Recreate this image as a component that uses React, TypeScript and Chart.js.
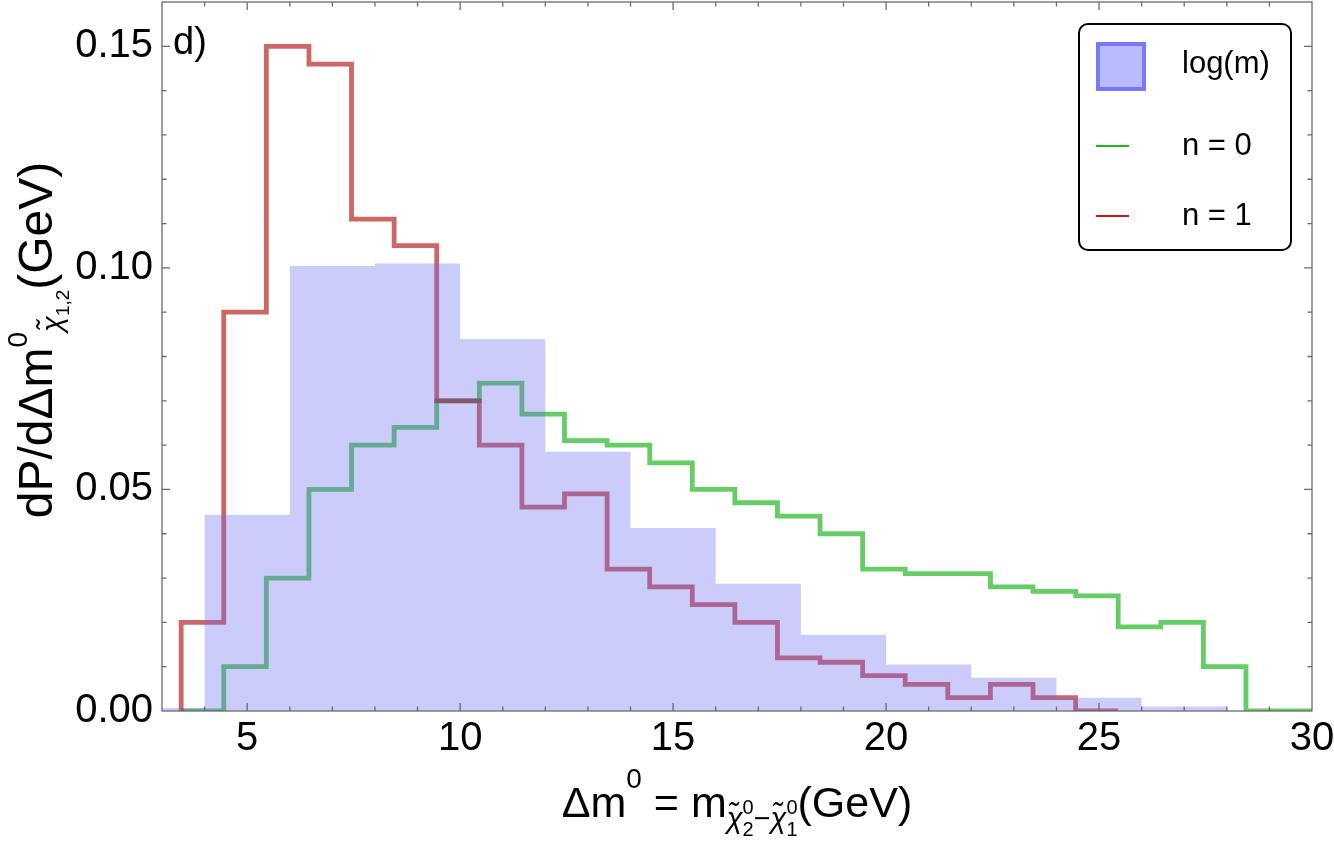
import { useEffect, useRef } from "react";
import { Chart, registerables } from "chart.js";

Chart.register(...registerables);

// log(m): 2 GeV bins starting at 2 GeV
const logMBinStart = 2;
const logMBinWidth = 2;
const logMValues = [
  0.0007, 0.0443, 0.1004, 0.101, 0.0839, 0.0585, 0.0413, 0.0287, 0.0172,
  0.0105, 0.0075, 0.003, 0.001,
];

// n = 0 / n = 1: 1 GeV bins starting at 3.45 GeV
const stepBinStart = 3.45;
const stepBinWidth = 1;
const n0Values = [
  0, 0.01, 0.03, 0.05, 0.06, 0.064, 0.07, 0.074, 0.067, 0.061, 0.06, 0.056,
  0.05, 0.047, 0.044, 0.04, 0.032, 0.031, 0.031, 0.028, 0.027, 0.026, 0.019,
  0.02, 0.01, 0, 0,
];
const n1Values = [
  0.02, 0.09, 0.15, 0.146, 0.111, 0.105, 0.07, 0.06, 0.046, 0.049, 0.032,
  0.028, 0.024, 0.02, 0.012, 0.011, 0.008, 0.006, 0.003, 0.006, 0.003, 0,
];

const seriesLabels = ["log(m)", "n = 0", "n = 1"];
const xTickLabels = [5, 10, 15, 20, 25, 30];
const yTickLabels = [0, 0.05, 0.1, 0.15];

const FONT = "'Liberation Sans', Arial, sans-serif";

type Run = { t: string; s: number; dy?: number; it?: boolean; stay?: boolean };

const xTitle: Run[] = [
  { t: "Δm", s: 43 },
  { t: "0", s: 28, dy: -29 },
  { t: " = m", s: 43 },
  { t: "χ̃", s: 29, dy: 11, it: true },
  { t: "2", s: 20, dy: 19, stay: true },
  { t: "0", s: 20, dy: -3 },
  { t: "−", s: 29, dy: 11 },
  { t: "χ̃", s: 29, dy: 11, it: true },
  { t: "1", s: 20, dy: 19, stay: true },
  { t: "0", s: 20, dy: -3 },
  { t: "(GeV)", s: 43 },
];

const yTitle: Run[] = [
  { t: "dP/dΔm", s: 48 },
  { t: "0", s: 28, dy: -25 },
  { t: "χ̃", s: 29, dy: 10, it: true },
  { t: "1,2", s: 19, dy: 17 },
  { t: "(GeV)", s: 48 },
];

function fontOf(r: Run) {
  return `${r.it ? "italic " : ""}${r.s}px ${FONT}`;
}

function runsWidth(ctx: CanvasRenderingContext2D, runs: Run[]) {
  let w = 0;
  for (const r of runs) {
    ctx.font = fontOf(r);
    if (!r.stay) w += ctx.measureText(r.t).width;
  }
  return w;
}

function drawRuns(ctx: CanvasRenderingContext2D, runs: Run[], x: number, y: number) {
  let cx = x;
  for (const r of runs) {
    ctx.font = fontOf(r);
    ctx.fillText(r.t, cx, y + (r.dy || 0));
    if (!r.stay) cx += ctx.measureText(r.t).width;
  }
}

// outline of a histogram: left-edge start at zero, then flat top per bin
function stepPoints(values: number[], start: number, width: number) {
  const pts = [{ x: start, y: 0 }];
  values.forEach((v, i) => {
    pts.push({ x: start + i * width, y: v });
    pts.push({ x: start + (i + 1) * width, y: v });
  });
  return pts;
}

const decorPlugin = {
  id: "decor",
  afterDatasetsDraw(chart: any) {
    const ctx: CanvasRenderingContext2D = chart.ctx;
    const a = chart.chartArea;
    const xs = chart.scales.x;
    const ys = chart.scales.y;
    ctx.save();

    // frame
    ctx.strokeStyle = "#6a6a6a";
    ctx.lineWidth = 1.3;
    ctx.strokeRect(a.left, a.top, a.right - a.left, a.bottom - a.top);

    // inward ticks on all four sides
    ctx.beginPath();
    for (let v = 4; v <= 29; v++) {
      const px = xs.getPixelForValue(v);
      const len = v % 5 === 0 ? 8 : 4.5;
      ctx.moveTo(px, a.bottom);
      ctx.lineTo(px, a.bottom - len);
      ctx.moveTo(px, a.top);
      ctx.lineTo(px, a.top + len);
    }
    for (let k = 1; k <= 15; k++) {
      const py = ys.getPixelForValue(k / 100);
      const len = k % 5 === 0 ? 8 : 4.5;
      ctx.moveTo(a.left, py);
      ctx.lineTo(a.left + len, py);
      ctx.moveTo(a.right, py);
      ctx.lineTo(a.right - len, py);
    }
    ctx.stroke();

    ctx.fillStyle = "#000";
    ctx.textBaseline = "alphabetic";
    ctx.textAlign = "left";

    // panel tag
    ctx.font = `38px ${FONT}`;
    ctx.fillText("d)", a.left + 11, 54);

    // axis titles
    const xw = runsWidth(ctx, xTitle);
    drawRuns(ctx, xTitle, (a.left + a.right) / 2 - xw / 2, 817);

    const yw = runsWidth(ctx, yTitle);
    ctx.save();
    ctx.translate(52, 340);
    ctx.rotate(-Math.PI / 2);
    drawRuns(ctx, yTitle, -yw / 2, 0);
    ctx.restore();

    // legend
    const bx = 1079, by = 24, bw = 212, bh = 226;
    ctx.beginPath();
    ctx.roundRect(bx, by, bw, bh, 9);
    ctx.fillStyle = "#fff";
    ctx.fill();
    ctx.strokeStyle = "#000";
    ctx.lineWidth = 2;
    ctx.stroke();

    ctx.fillStyle = "rgb(186,186,255)";
    ctx.fillRect(1098, 44, 46, 45);
    ctx.strokeStyle = "rgb(120,120,255)";
    ctx.lineWidth = 4;
    ctx.strokeRect(1098, 44, 46, 45);

    ctx.lineWidth = 2;
    ctx.strokeStyle = "rgb(30,180,30)";
    ctx.beginPath();
    ctx.moveTo(1096, 146);
    ctx.lineTo(1129, 146);
    ctx.stroke();
    ctx.strokeStyle = "rgb(200,25,25)";
    ctx.beginPath();
    ctx.moveTo(1096, 216);
    ctx.lineTo(1129, 216);
    ctx.stroke();

    ctx.fillStyle = "#000";
    ctx.font = `31px ${FONT}`;
    ctx.textBaseline = "middle";
    ctx.fillText(seriesLabels[0], 1182, 64);
    ctx.fillText(seriesLabels[1], 1182, 146);
    ctx.fillText(seriesLabels[2], 1182, 216);

    ctx.restore();
  },
};

export default function App() {
  const canvasRef = useRef<HTMLCanvasElement>(null);

  useEffect(() => {
    const canvas = canvasRef.current;
    if (!canvas) return;

    const tickFont = { family: FONT, size: 40 };

    const chart = new Chart(canvas, {
      type: "line",
      data: {
        datasets: [
          {
            label: seriesLabels[0],
            data: [
              ...stepPoints(logMValues, logMBinStart, logMBinWidth),
              { x: logMBinStart + logMValues.length * logMBinWidth, y: 0 },
            ],
            backgroundColor: "rgba(100,100,240,0.33)",
            borderWidth: 0,
            pointRadius: 0,
            tension: 0,
            fill: "origin",
            order: 0,
          },
          {
            label: seriesLabels[1],
            data: stepPoints(n0Values, stepBinStart, stepBinWidth),
            borderColor: "rgba(0,170,0,0.6)",
            borderWidth: 4.8,
            borderJoinStyle: "miter",
            pointRadius: 0,
            tension: 0,
            fill: false,
            order: 2,
          },
          {
            label: seriesLabels[2],
            data: stepPoints(n1Values, stepBinStart, stepBinWidth),
            borderColor: "rgba(175,0,0,0.6)",
            borderWidth: 4.8,
            borderJoinStyle: "miter",
            pointRadius: 0,
            tension: 0,
            fill: false,
            order: 1,
          },
        ],
      } as any,
      options: {
        responsive: false,
        animation: false,
        layout: { padding: { left: 0, right: 22, top: 2, bottom: 0 } },
        plugins: {
          legend: { display: false },
          tooltip: { enabled: false },
        },
        scales: {
          x: {
            type: "linear",
            min: 3,
            max: 30,
            offset: false,
            grid: { display: false, drawTicks: false },
            border: { display: false },
            afterBuildTicks: (s: any) => {
              s.ticks = xTickLabels.map((v) => ({ value: v }));
            },
            afterFit: (s: any) => {
              s.height = 130;
              s.paddingLeft = 0;
              s.paddingRight = 0;
            },
            ticks: {
              font: tickFont,
              color: "#000",
              padding: 4,
              maxRotation: 0,
              autoSkip: false,
              callback: (v: any) => String(v),
            },
          },
          y: {
            type: "linear",
            min: 0,
            max: 0.16,
            grid: { display: false, drawTicks: false },
            border: { display: false },
            afterBuildTicks: (s: any) => {
              s.ticks = yTickLabels.map((v) => ({ value: v }));
            },
            afterFit: (s: any) => {
              s.width = 162;
              s.paddingTop = 0;
              s.paddingBottom = 0;
            },
            ticks: {
              font: tickFont,
              color: "#000",
              padding: 9,
              callback: (v: any) => Number(v).toFixed(2),
            },
          },
        },
      } as any,
      plugins: [decorPlugin],
    });

    return () => chart.destroy();
  }, []);

  return (
    <div
      style={{
        position: "fixed",
        left: 0,
        top: 0,
        width: 1334,
        height: 841,
        background: "#fff",
      }}
    >
      <canvas
        ref={canvasRef}
        width={1334}
        height={841}
        style={{ display: "block", width: 1334, height: 841 }}
      />
    </div>
  );
}
